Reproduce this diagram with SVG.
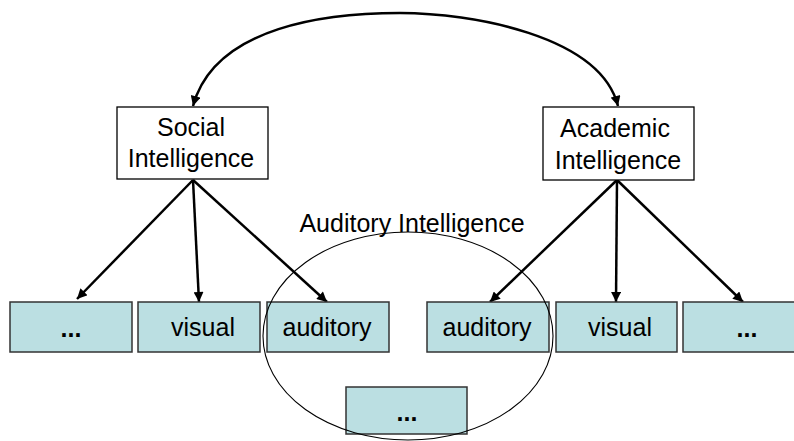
<svg xmlns="http://www.w3.org/2000/svg" width="794" height="441" viewBox="0 0 794 441">
<style>
text{font-family:"Liberation Sans",Arial,sans-serif;fill:#000;text-anchor:middle}
.t{font-size:25px}
.b{font-size:25px}
.d{font-size:25px;font-weight:bold}
.latent{fill:#fff;stroke:#000;stroke-width:1.3}
.obs{fill:#bbdfe2;stroke:#333;stroke-width:1.5}
.arr{fill:none;stroke:#000;stroke-width:2.5;marker-end:url(#ah)}
</style>
<defs>
<marker id="ah" viewBox="0 0 10 10" refX="10" refY="5" markerWidth="4.4" markerHeight="4" markerUnits="strokeWidth" orient="auto">
<path d="M0,0 L10,5 L0,10 z" fill="#000"/>
</marker>
</defs>
<g id="connectors">
<path class="arr" d="M400,13 C330,13 215,25 193,106"/>
<path class="arr" d="M400,13 C470,13 600,35 618,106"/>
<line class="arr" x1="193" y1="180" x2="77" y2="299"/>
<line class="arr" x1="193" y1="180" x2="199" y2="302"/>
<line class="arr" x1="193" y1="180" x2="327" y2="302"/>
<line class="arr" x1="617" y1="180" x2="490" y2="302"/>
<line class="arr" x1="617" y1="180" x2="616" y2="302"/>
<line class="arr" x1="617" y1="180" x2="743" y2="302"/>
</g>
<g id="social">
<rect class="latent" x="117" y="107" width="151" height="72"/>
<text class="t" x="191" y="136">Social</text>
<text class="t" x="191" y="167">Intelligence</text>
</g>
<g id="academic">
<rect class="latent" x="543" y="107" width="151" height="73"/>
<text class="t" x="615" y="137">Academic</text>
<text class="t" x="618" y="169">Intelligence</text>
</g>
<g id="s-other">
<rect class="obs" x="10" y="302" width="122" height="50"/>
<text class="d" x="71" y="337">...</text>
</g>
<g id="s-visual">
<rect class="obs" x="138" y="302" width="122" height="50"/>
<text class="b" x="203" y="336">visual</text>
</g>
<g id="s-auditory">
<rect class="obs" x="267" y="302" width="122" height="50"/>
<text class="b" x="327" y="336">auditory</text>
</g>
<g id="a-auditory">
<rect class="obs" x="427" y="302" width="122" height="50"/>
<text class="b" x="487" y="336">auditory</text>
</g>
<g id="a-visual">
<rect class="obs" x="556" y="302" width="121" height="50"/>
<text class="b" x="620" y="336">visual</text>
</g>
<g id="a-other">
<rect class="obs" x="683" y="302" width="122" height="50"/>
<text class="d" x="747" y="337">...</text>
</g>
<g id="auditory-other">
<rect class="obs" x="346" y="387" width="121" height="47"/>
<text class="d" x="407" y="421">...</text>
</g>
<g id="auditory-intelligence">
<ellipse cx="408" cy="336" rx="145" ry="104" fill="none" stroke="#000" stroke-width="1.1"/>
<text class="t" x="412" y="232">Auditory Intelligence</text>
</g>
</svg>
